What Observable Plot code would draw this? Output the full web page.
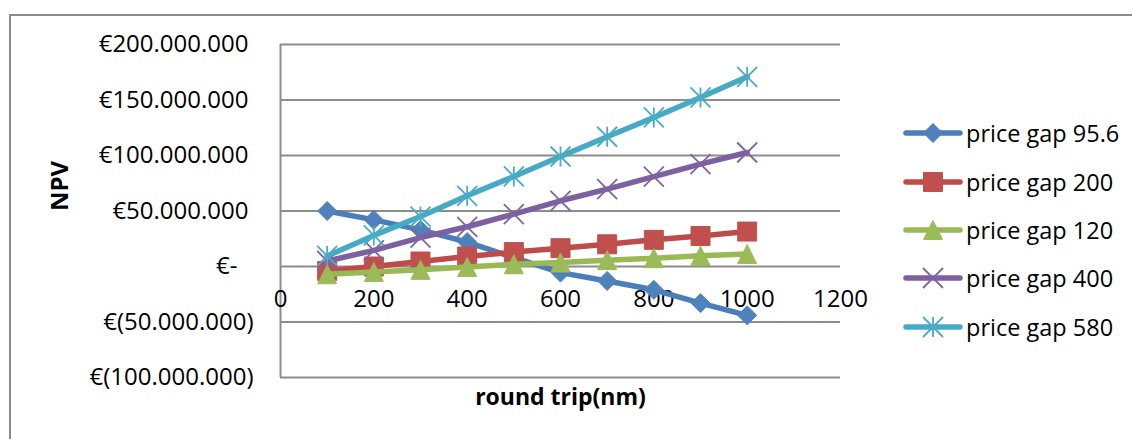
<!DOCTYPE html>
<html><head><meta charset="utf-8">
<script src="https://cdn.jsdelivr.net/npm/d3@7"></script>
<script src="https://cdn.jsdelivr.net/npm/@observablehq/plot@0.6"></script>
<style>
body{margin:0;background:#fff;}
#wrap{position:relative;width:1132px;height:439px;overflow:hidden;font-family:"Open Sans",sans-serif;}
#border{position:absolute;left:9px;top:14px;width:1200px;height:500px;border-top:2px solid #8a8a8a;border-left:2px solid #8a8a8a;pointer-events:none;}
#chart{position:absolute;left:0;top:0;}
.item{position:absolute;left:903px;height:30px;display:flex;align-items:center;white-space:nowrap;}
.item span{font-size:23.5px;color:#000;margin-left:3px;line-height:30px;}
</style>
</head><body>
<div id="wrap"><div id="border"></div><div id="chart"></div></div>
<script>
// ---- data ----
const roundTrip = [100, 200, 300, 400, 500, 600, 700, 800, 900, 1000];
const seriesNames = ["price gap 95.6", "price gap 200", "price gap 120", "price gap 400", "price gap 580"];
// NPV in millions of euro
const npvGap956 = [50, 42, 33, 22, 8, -5.5, -13, -21, -33, -44];
const npvGap200 = [-4, 0, 4.5, 9, 13, 16.5, 20, 24, 27.5, 31.5];
const npvGap120 = [-7, -5, -3, -0.5, 2, 3.6, 5.7, 7.5, 9.6, 11.2];
const npvGap400 = [5, 14.5, 26, 35.8, 47.2, 59.2, 69.7, 81, 92.2, 102.7];
const npvGap580 = [9.5, 28, 45, 63.7, 81.1, 99.1, 116.9, 134.3, 152.3, 170.9];
const yTicks = [-100000000, -50000000, 0, 50000000, 100000000, 150000000, 200000000];
const xTicks = [0, 200, 400, 600, 800, 1000, 1200];

// ---- symbols (Excel-like markers) ----
const rad = size => Math.sqrt(size / Math.PI);
const diamond = {draw(c, s){const r = rad(s); c.moveTo(0,-r); c.lineTo(r,0); c.lineTo(0,r); c.lineTo(-r,0); c.closePath();}};
const square = {draw(c, s){const r = rad(s); c.moveTo(-r,-r); c.lineTo(r,-r); c.lineTo(r,r); c.lineTo(-r,r); c.closePath();}};
const triangle = {draw(c, s){const r = rad(s); c.moveTo(0,-r); c.lineTo(r,r); c.lineTo(-r,r); c.closePath();}};
const times = {draw(c, s){const r = rad(s); c.moveTo(-r,-r); c.lineTo(r,r); c.moveTo(-r,r); c.lineTo(r,-r);}};
const asterisk = {draw(c, s){const r = rad(s); c.moveTo(-r,-r); c.lineTo(r,r); c.moveTo(-r,r); c.lineTo(r,-r); c.moveTo(0,-r); c.lineTo(0,r);}};

const series = [
  {name: seriesNames[0], values: npvGap956, line: "#4a7ebb", color: "#4f81bd", symbol: diamond, r: 9.5, filled: true},
  {name: seriesNames[1], values: npvGap200, line: "#be4b48", color: "#c0504d", symbol: square, r: 9.5, filled: true},
  {name: seriesNames[2], values: npvGap120, line: "#98b954", color: "#9bbb59", symbol: triangle, r: 9.5, filled: true},
  {name: seriesNames[3], values: npvGap400, line: "#7d60a0", color: "#8064a2", symbol: times, r: 10, filled: false},
  {name: seriesNames[4], values: npvGap580, line: "#46aac5", color: "#4bacc6", symbol: asterisk, r: 10, filled: false}
];

const fmtNum = v => d3.format(",")(v).replace(/,/g, ".");
const fmtEuro = v => v === 0 ? "€-" : v < 0 ? `€(${fmtNum(-v)})` : `€${fmtNum(v)}`;

const FS = 24;
const marks = [
  Plot.ruleY(yTicks, {stroke: "#8c8c8c", strokeWidth: 2}),
  Plot.ruleX([0], {stroke: "#8c8c8c", strokeWidth: 2}),
  Plot.axisY(yTicks.filter(v => v > 0), {tickSize: 0, tickPadding: 32, tickFormat: fmtEuro, fontSize: FS, fill: "#000", label: null}),
  Plot.axisY(yTicks.filter(v => v === 0), {tickSize: 0, tickPadding: 43, tickFormat: fmtEuro, fontSize: FS, fill: "#000", label: null}),
  Plot.axisY(yTicks.filter(v => v < 0), {tickSize: 0, tickPadding: 27, tickFormat: fmtEuro, fontSize: FS, fill: "#000", label: null}),
  Plot.text(xTicks, {x: d => d, y: () => 0, text: d => String(d), dy: 33, fontSize: FS, fill: "#000"}),
  Plot.text(["NPV"], {frameAnchor: "left", dx: -220, rotate: -90, fontSize: FS, fontWeight: "bold", fill: "#000"}),
  Plot.text(["round trip(nm)"], {frameAnchor: "bottom", dy: 27, fontSize: 23, fontWeight: "bold", fill: "#000"})
];
for (const s of series) {
  const data = roundTrip.map((x, i) => ({x, y: s.values[i] * 1e6}));
  marks.push(Plot.line(data, {x: "x", y: "y", stroke: s.line, strokeWidth: 5.5, strokeLinejoin: "round", strokeLinecap: "round"}));
  marks.push(Plot.dot(data, s.filled
    ? {x: "x", y: "y", symbol: s.symbol, r: s.r, fill: s.color, stroke: s.color, strokeWidth: 1}
    : {x: "x", y: "y", symbol: s.symbol, r: s.r, fill: "none", stroke: s.color, strokeWidth: 1.8}));
}

const chart = Plot.plot({
  width: 1132, height: 439,
  marginLeft: 280, marginRight: 292, marginTop: 44, marginBottom: 62,
  x: {domain: [0, 1200], axis: null},
  y: {domain: [-100000000, 200000000], axis: null},
  style: {fontFamily: "'Open Sans', sans-serif", fontSize: FS + "px", background: "transparent", overflow: "visible"},
  marks
});
document.getElementById("chart").appendChild(chart);

// ---- legend ----
const legendY = [133, 182, 230, 278, 327];
const wrap = document.getElementById("wrap");
series.forEach((s, i) => {
  const item = document.createElement("div");
  item.className = "item";
  item.style.top = (legendY[i] - 15) + "px";
  const svg = d3.create("svg").attr("width", 60).attr("height", 30);
  svg.append("line").attr("x1", 3).attr("x2", 57).attr("y1", 15).attr("y2", 15)
    .attr("stroke", s.line).attr("stroke-width", 5.5).attr("stroke-linecap", "round");
  const p = d3.symbol(s.symbol, Math.PI * s.r * s.r)();
  svg.append("path").attr("d", p).attr("transform", "translate(30,15)")
    .attr("fill", s.filled ? s.color : "none").attr("stroke", s.color).attr("stroke-width", s.filled ? 1 : 1.8);
  item.appendChild(svg.node());
  const t = document.createElement("span");
  t.textContent = s.name;
  item.appendChild(t);
  wrap.appendChild(item);
});
</script>
</body></html>
